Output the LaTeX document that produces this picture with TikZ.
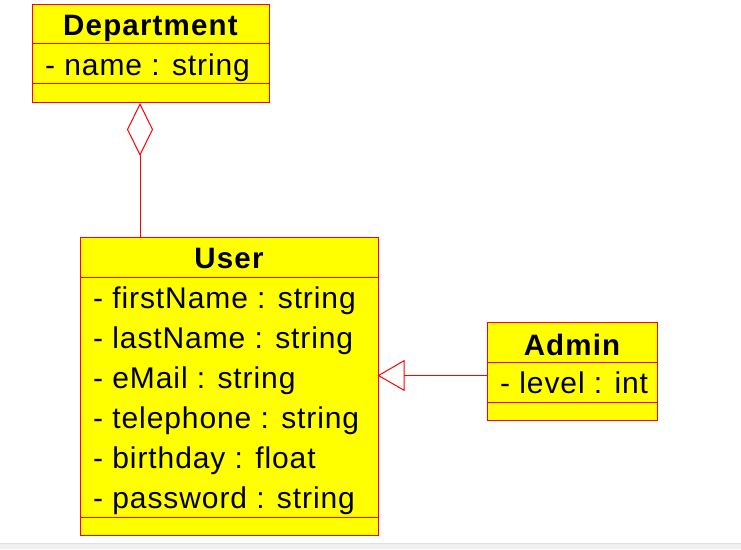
\documentclass[tikz,border=0pt]{standalone}
\usepackage{fontspec}
\setmainfont{Liberation Sans}
\usetikzlibrary{arrows.meta}
\newfontfamily\attrfont[LetterSpace=3]{Liberation Sans}
\newfontfamily\titlefont[LetterSpace=4]{Liberation Sans Bold}
\definecolor{umlred}{RGB}{255,0,0}
\definecolor{umlyellow}{RGB}{255,255,0}
\tikzset{
  umlbox/.style={draw=umlred, fill=umlyellow, line width=1pt, inner sep=0pt, anchor=north west},
  divider/.style={draw=umlred, line width=1pt},
  titletext/.style={anchor=base, inner sep=0pt, font=\titlefont\fontsize{29.5pt}{31pt}\selectfont},
  attrtext/.style={anchor=base west, inner sep=0pt, font=\attrfont\fontsize{30pt}{32pt}\selectfont},
  conn/.style={draw=umlred, line width=1pt},
}
\begin{document}
\begin{tikzpicture}[x=1pt,y=-1pt]
\useasboundingbox (0,0) rectangle (741,549);
\fill[white] (0,0) rectangle (741,549);
\fill[black!6] (0,543) rectangle (741,549);
\draw[black!12, line width=1pt] (0,543) -- (741,543);

% Department
\node[umlbox, minimum width=237pt, minimum height=98pt] (dept) at (32,4) {};
\draw[divider] (32,43) -- (269,43);
\draw[divider] (32,83) -- (269,83);
\node[titletext] (deptname) at (150.5,35) {Department};
\node[attrtext] (deptattr) at (45,75) {- name : string};

% User
\node[umlbox, minimum width=298pt, minimum height=298pt] (user) at (80,237) {};
\draw[divider] (80,277) -- (378,277);
\draw[divider] (80,517) -- (378,517);
\node[titletext] (username) at (229,268) {User};
\node[attrtext] (u1) at (93,308) {- firstName : string};
\node[attrtext] (u2) at (93,348) {- lastName : string};
\node[attrtext] (u3) at (93,388) {- eMail : string};
\node[attrtext] (u4) at (93,428) {- telephone : string};
\node[attrtext] (u5) at (93,468) {- birthday : float};
\node[attrtext] (u6) at (93,508) {- password : string};

% Admin
\node[umlbox, minimum width=170pt, minimum height=98pt] (admin) at (487,322) {};
\draw[divider] (487,362) -- (657,362);
\draw[divider] (487,402) -- (657,402);
\node[titletext] (adminname) at (572,355) {Admin};
\node[attrtext] (adminattr) at (500,393) {- level : int};

% Aggregation
\draw[conn, {Diamond[open, length=53pt, width=26pt, line width=1pt]}-]
  ([xshift=108pt]dept.south west) -- ([xshift=108pt]dept.south west |- user.north);

% Generalization
\draw[conn, -{Triangle[open, length=27pt, width=31pt, line width=1pt]}, shorten >=-1.5pt]
  ([yshift=-4pt]admin.west) -- ([yshift=-4pt]admin.west -| user.east);
\end{tikzpicture}
\end{document}
